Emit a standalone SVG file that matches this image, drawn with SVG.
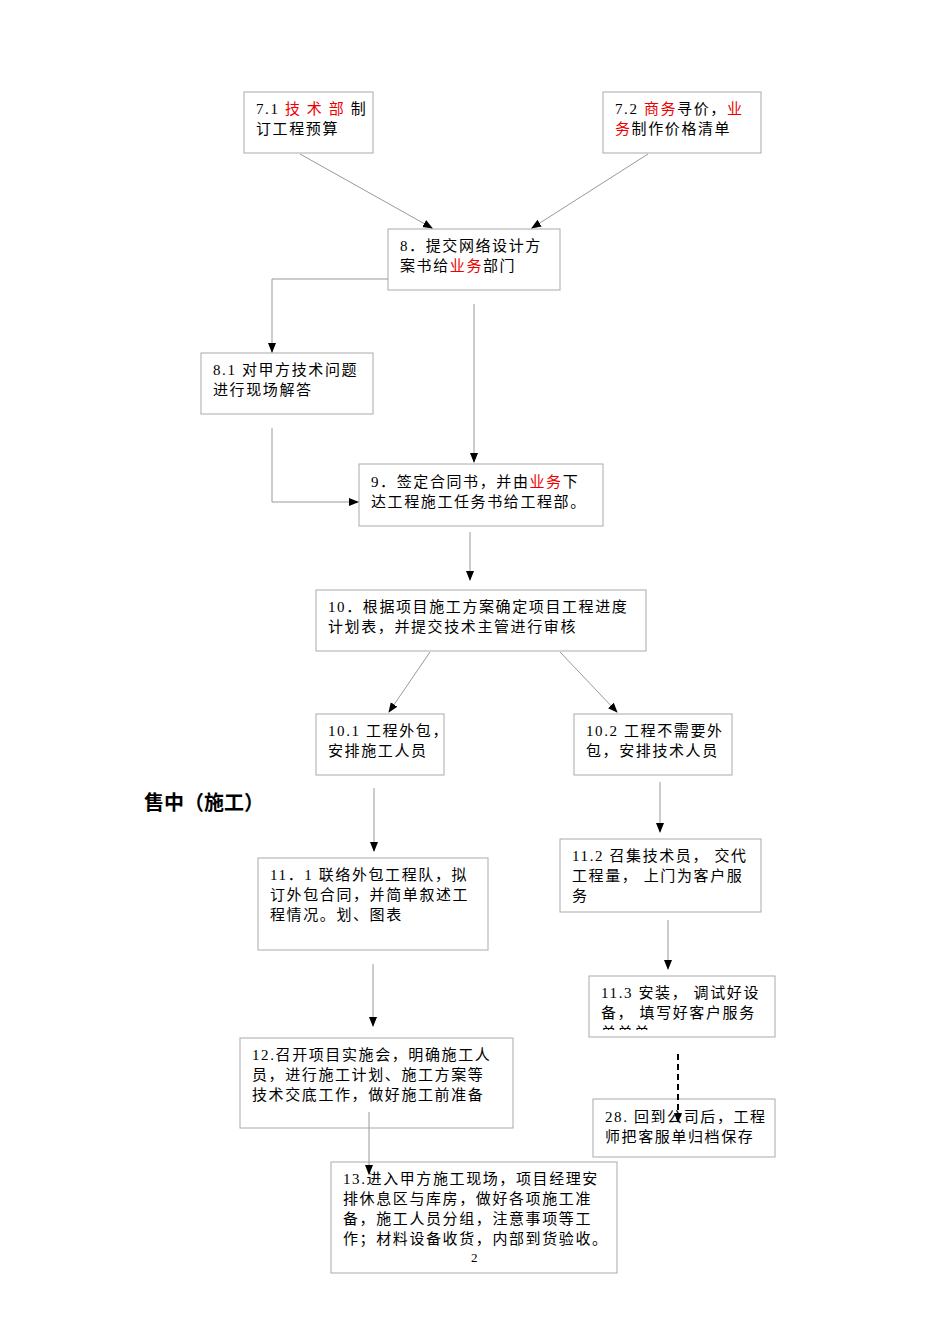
<svg xmlns="http://www.w3.org/2000/svg" width="950" height="1344" viewBox="0 0 950 1344">
<style>
.b{fill:#fff;stroke:#aaa;stroke-width:1}
text{font-family:"Liberation Serif","Noto Sans CJK SC",serif;font-size:15px;fill:#000;letter-spacing:1.6px}
.r{fill:#e00}
.c line,.c polyline{stroke:#999;stroke-width:1;fill:none}
</style>
<defs>
<marker id="a" markerWidth="10" markerHeight="10" refX="9" refY="5" orient="auto" markerUnits="userSpaceOnUse"><path d="M0,1 L10,5 L0,9 Z" fill="#000"/></marker>
<clipPath id="k"><rect x="589" y="976" width="186" height="54"/></clipPath>
</defs>
<rect width="950" height="1344" fill="#fff"/>
<g id="n71"><rect class="b" x="244" y="92" width="129" height="61"/><text x="256" y="114">7.1 <tspan class="r">技 术 部</tspan> 制</text><text x="256" y="134">订工程预算</text></g>
<g id="n72"><rect class="b" x="603" y="92" width="158" height="61"/><text x="615" y="114">7.2 <tspan class="r">商务</tspan>寻价，<tspan class="r">业</tspan></text><text x="615" y="134"><tspan class="r">务</tspan>制作价格清单</text></g>
<g id="n8"><rect class="b" x="388" y="229" width="172" height="61"/><text x="400" y="251">8．提交网络设计方</text><text x="400" y="271">案书给<tspan class="r">业务</tspan>部门</text></g>
<g id="n81"><rect class="b" x="201" y="353" width="172" height="61"/><text x="213" y="375">8.1 对甲方技术问题</text><text x="213" y="395">进行现场解答</text></g>
<g id="n9"><rect class="b" x="359" y="464" width="244" height="62"/><text x="371" y="487">9．签定合同书，并由<tspan class="r">业务</tspan>下</text><text x="371" y="507">达工程施工任务书给工程部。</text></g>
<g id="n10"><rect class="b" x="316" y="590" width="330" height="61"/><text x="328" y="612">10．根据项目施工方案确定项目工程进度</text><text x="328" y="632">计划表，并提交技术主管进行审核</text></g>
<g id="n101"><rect class="b" x="316" y="714" width="128" height="61"/><text x="328" y="736">10.1 工程外包，</text><text x="328" y="756">安排施工人员</text></g>
<g id="n102"><rect class="b" x="574" y="714" width="158" height="61"/><text x="586" y="736">10.2 工程不需要外</text><text x="586" y="756">包，安排技术人员</text></g>
<text x="144" y="810" style="font-size:20px;font-weight:bold;letter-spacing:0">售中（施工）</text>
<g id="n111"><rect class="b" x="258" y="858" width="230" height="92"/><text x="270" y="880">11．1 联络外包工程队，拟</text><text x="270" y="900">订外包合同，并简单叙述工</text><text x="270" y="920">程情况。划、图表</text></g>
<g id="n112"><rect class="b" x="560" y="839" width="201" height="73"/><text x="572" y="861">11.2 召集技术员， 交代</text><text x="572" y="881">工程量， 上门为客户服</text><text x="572" y="901">务</text></g>
<g id="n113"><rect class="b" x="589" y="976" width="186" height="61"/><g clip-path="url(#k)"><text x="601" y="998">11.3 安装， 调试好设</text><text x="601" y="1018">备， 填写好客户服务</text><text x="601" y="1038">单单单</text></g></g>
<g id="n28"><rect class="b" x="593" y="1099" width="182" height="58"/><text x="605" y="1122">28. 回到公司后，工程</text><text x="605" y="1142">师把客服单归档保存</text></g>
<g id="n12"><rect class="b" x="240" y="1038" width="273" height="90"/><text x="252" y="1060">12.召开项目实施会，明确施工人</text><text x="252" y="1080">员，进行施工计划、施工方案等</text><text x="252" y="1100">技术交底工作，做好施工前准备</text></g>
<g id="n13"><rect class="b" x="331" y="1162" width="286" height="111"/><text x="343" y="1184">13.进入甲方施工现场，项目经理安</text><text x="343" y="1204">排休息区与库房，做好各项施工准</text><text x="343" y="1224">备，施工人员分组，注意事项等工</text><text x="343" y="1244">作；材料设备收货，内部到货验收。</text><text x="471" y="1262" style="font-size:13px;letter-spacing:0">2</text></g>
<g class="c">
<line x1="300" y1="154" x2="432" y2="228" marker-end="url(#a)"/>
<line x1="648" y1="154" x2="532" y2="228" marker-end="url(#a)"/>
<polyline points="388,279 272,279 272,352" marker-end="url(#a)"/>
<line x1="474" y1="304" x2="474" y2="462" marker-end="url(#a)"/>
<polyline points="272,428 272,502 358,502" marker-end="url(#a)"/>
<line x1="470" y1="532" x2="470" y2="580" marker-end="url(#a)"/>
<line x1="430" y1="652" x2="389" y2="712" marker-end="url(#a)"/>
<line x1="560" y1="652" x2="617" y2="712" marker-end="url(#a)"/>
<line x1="374" y1="788" x2="374" y2="851" marker-end="url(#a)"/>
<line x1="660" y1="782" x2="660" y2="832" marker-end="url(#a)"/>
<line x1="373" y1="964" x2="373" y2="1026" marker-end="url(#a)"/>
<line x1="668" y1="920" x2="668" y2="969" marker-end="url(#a)"/>
<line x1="678" y1="1054" x2="678" y2="1122" stroke-dasharray="6,4" marker-end="url(#a)" style="stroke:#000;stroke-width:2"/>
<line x1="369" y1="1112" x2="369" y2="1174" marker-end="url(#a)"/>
</g>
</svg>
